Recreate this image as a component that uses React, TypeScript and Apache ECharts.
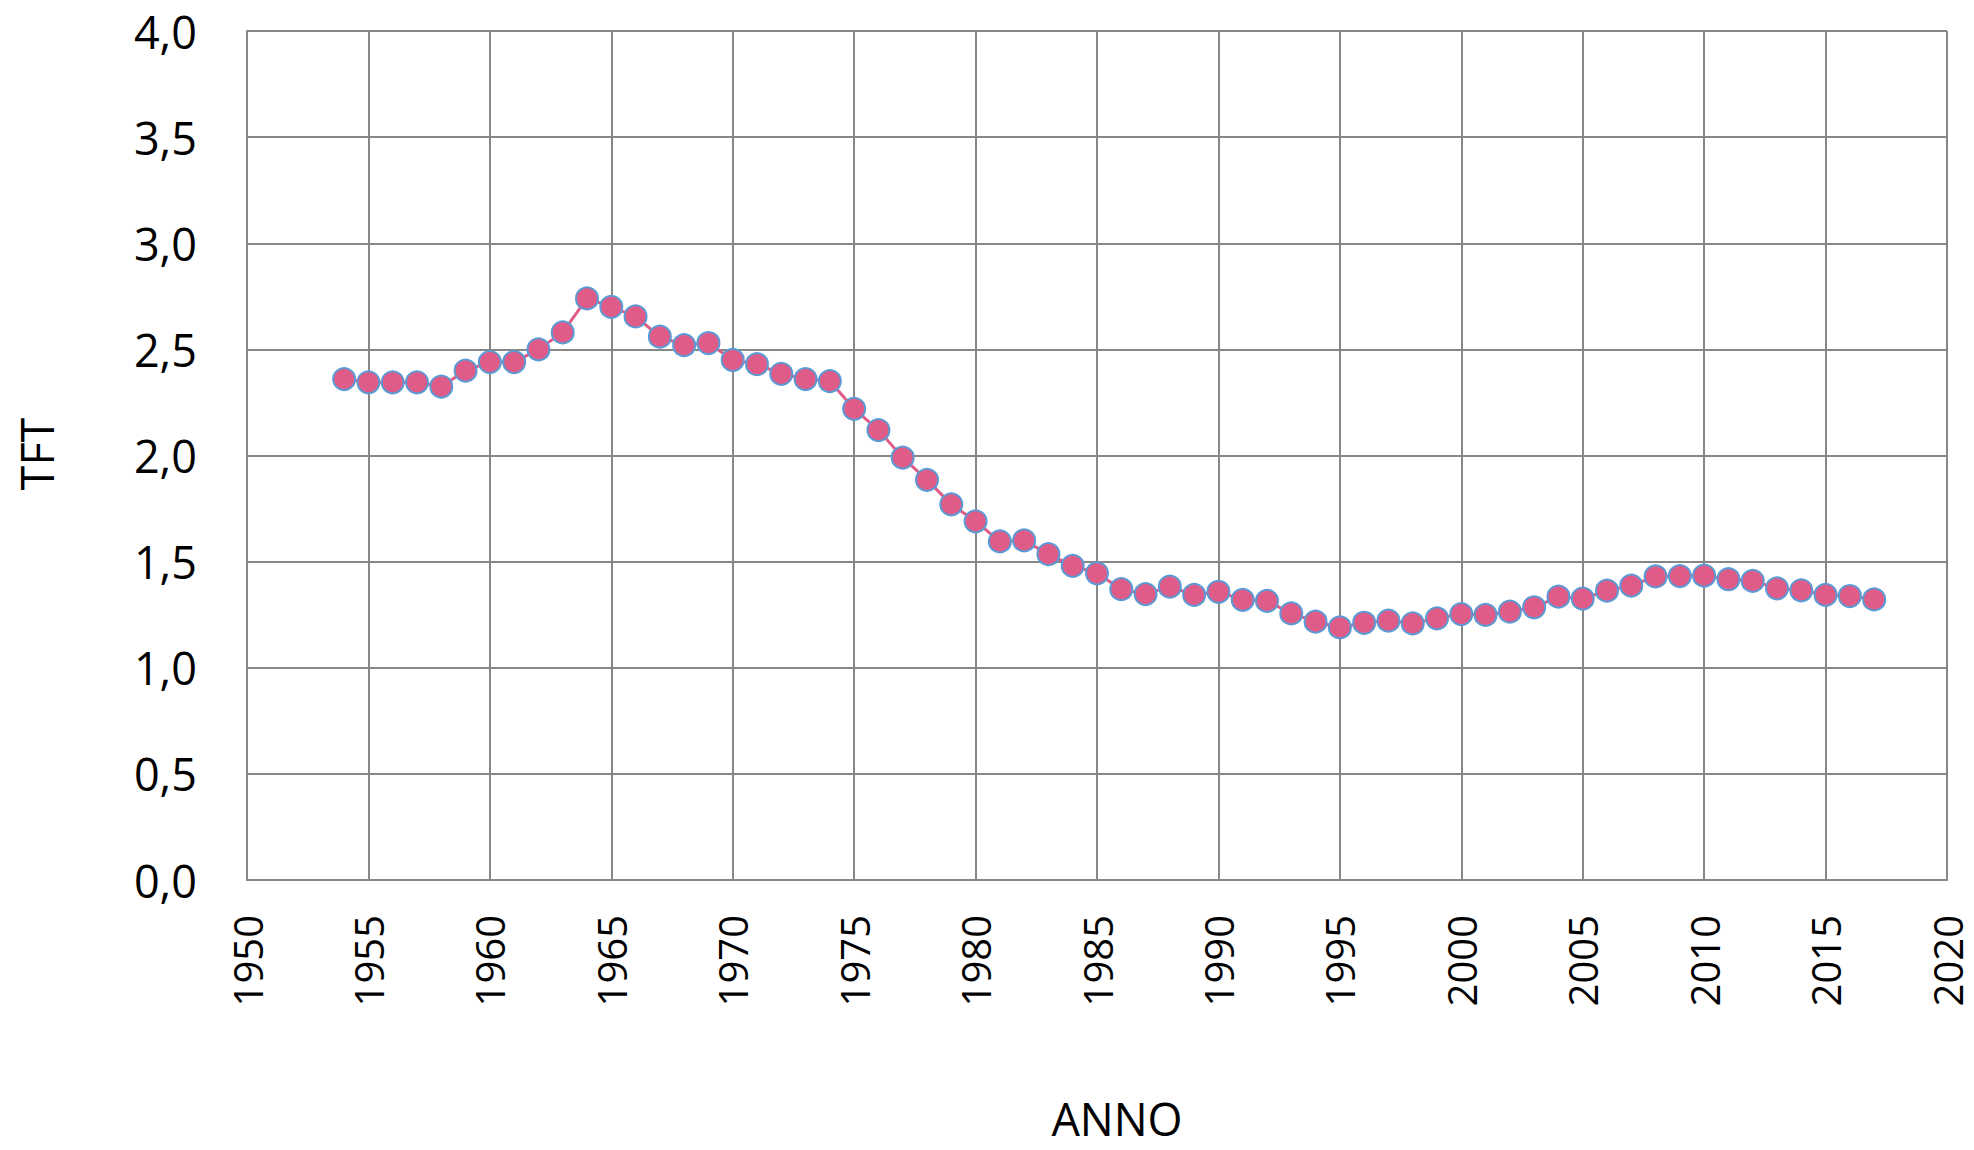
import React, { useEffect, useRef } from "react";
import * as echarts from "echarts";

const years: number[] = [
  1954, 1955, 1956, 1957, 1958, 1959, 1960, 1961, 1962, 1963,
  1964, 1965, 1966, 1967, 1968, 1969, 1970, 1971, 1972, 1973,
  1974, 1975, 1976, 1977, 1978, 1979, 1980, 1981, 1982, 1983,
  1984, 1985, 1986, 1987, 1988, 1989, 1990, 1991, 1992, 1993,
  1994, 1995, 1996, 1997, 1998, 1999, 2000, 2001, 2002, 2003,
  2004, 2005, 2006, 2007, 2008, 2009, 2010, 2011, 2012, 2013,
  2014, 2015, 2016, 2017,
];

const tft: number[] = [
  2.36, 2.345, 2.345, 2.345, 2.325, 2.40, 2.44, 2.44, 2.50, 2.58,
  2.74, 2.70, 2.655, 2.56, 2.52, 2.53, 2.45, 2.43, 2.385, 2.36,
  2.35, 2.22, 2.12, 1.99, 1.885, 1.77, 1.69, 1.595, 1.60, 1.535,
  1.48, 1.445, 1.37, 1.347, 1.382, 1.343, 1.358, 1.32, 1.315, 1.256,
  1.217, 1.19, 1.212, 1.222, 1.209, 1.233, 1.253, 1.249, 1.264, 1.285,
  1.335, 1.326, 1.363, 1.387, 1.43, 1.432, 1.434, 1.417, 1.409, 1.374,
  1.365, 1.343, 1.338, 1.322,
];

const xMin = 1950;
const xMax = 2020;
const xStep = 5;
const yMin = 0;
const yMax = 4;
const yStep = 0.5;

const yTitle = "TFT";
const xTitle = "ANNO";

export default function App() {
  const ref = useRef<HTMLDivElement>(null);

  useEffect(() => {
    document.body.style.margin = "0";
    if (!ref.current) return;
    const chart = echarts.init(ref.current, null, { renderer: "svg" });
    const font = "'Open Sans', 'Noto Sans', sans-serif";
    const gridColor = "#878787";

    chart.setOption({
      animation: false,
      backgroundColor: "#ffffff",
      grid: { left: 247, right: 27, top: 31, bottom: 270, containLabel: false },
      xAxis: {
        type: "value",
        min: xMin,
        max: xMax,
        interval: xStep,
        axisLine: { show: true, lineStyle: { color: gridColor, width: 2 } },
        axisTick: { show: false },
        splitLine: { show: true, lineStyle: { color: gridColor, width: 2 } },
        axisLabel: {
          rotate: 90,
          margin: 35,
          fontSize: 40,
          fontFamily: font,
          color: "#000000",
          formatter: (v: number) => String(v),
        },
      },
      yAxis: {
        type: "value",
        min: yMin,
        max: yMax,
        interval: yStep,
        axisLine: { show: true, lineStyle: { color: gridColor, width: 2 } },
        axisTick: { show: false },
        splitLine: { show: true, lineStyle: { color: gridColor, width: 2 } },
        axisLabel: {
          margin: 50,
          fontSize: 45,
          fontFamily: font,
          color: "#000000",
          formatter: (v: number) => v.toFixed(1).replace(".", ","),
        },
      },
      graphic: [
        {
          type: "text",
          x: 36,
          y: 454,
          rotation: Math.PI / 2,
          style: {
            text: yTitle,
            fontSize: 45,
            lineHeight: 45,
            fontFamily: font,
            fill: "#000000",
            align: "center",
            verticalAlign: "middle",
          },
        },
        {
          type: "text",
          x: 1117,
          y: 1118,
          style: {
            text: xTitle,
            fontSize: 45,
            lineHeight: 45,
            fontFamily: font,
            fill: "#000000",
            align: "center",
            verticalAlign: "middle",
          },
        },
      ],
      series: [
        {
          type: "line",
          data: years.map((y, i) => [y, tft[i]]),
          symbol: "circle",
          symbolSize: 22,
          lineStyle: { color: "#E05C88", width: 3 },
          itemStyle: { color: "#E05C88", borderColor: "#5B9BD5", borderWidth: 2 },
          z: 5,
        },
      ],
    });

    return () => {
      chart.dispose();
    };
  }, []);

  return (
    <div
      ref={ref}
      style={{ position: "absolute", left: 0, top: 0, width: 1974, height: 1150 }}
    />
  );
}
